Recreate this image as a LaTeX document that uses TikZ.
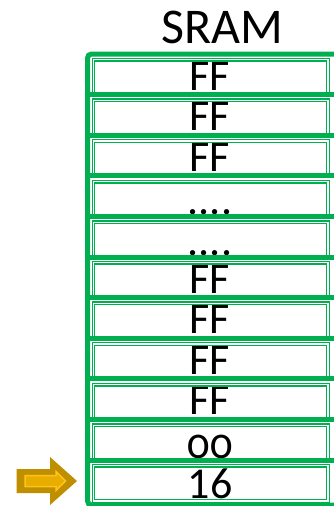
\documentclass[tikz,border=0pt]{standalone}
\usepackage{fontspec}
\setmainfont{Carlito}
\newfontfamily\oldnum[Numbers=OldStyle]{Carlito}
\definecolor{sgreen}{HTML}{00B050}
\definecolor{golddark}{HTML}{BF8F00}
\definecolor{goldlight}{HTML}{E9AD00}
\definecolor{goldline}{HTML}{FFC21A}
\tikzset{
  cell/.style={draw=sgreen, double=white, double distance=1.3pt, line width=1.3pt,
    minimum width=234.5pt, inner sep=0pt, outer sep=0pt},
  celltext/.style={anchor=base, inner sep=0pt, font=\fontsize{44}{44}\selectfont},
  thick frame/.style={draw=sgreen, line width=5pt},
}
\begin{document}
\begin{tikzpicture}[x=1pt,y=-1pt]
\useasboundingbox (0,0) rectangle (333,506);
% title
\node[anchor=base, inner sep=0pt, font=\fontsize{50}{50}\selectfont] (title) at (222.5,43.5) {SRAM};
% texts (drawn first, lines go over them)
\foreach \k/\txt/\dy in {0/{FF}/4.5,1/{FF}/4.5,2/{FF}/4.5,3/{....}/2,4/{....}/2,5/{FF}/4.5,6/{FF}/4.5,7/{FF}/4.5,8/{FF}/4.5,9/{\oldnum 00}/1.5} {
  \pgfmathsetmacro{\rbase}{54+40.6*(\k+1)-\dy}
  \node[celltext] (t\k) at (210,\rbase) {\txt};
}
\node[celltext] (t10) at (210,498) {16};
% cells (inner double boxes; their bottom edge lies under the next thick band)
\foreach \k in {0,...,9} {
  \pgfmathsetmacro{\rmid}{54+40.6*\k+23.2}
  \node[cell, minimum height=34.8pt] (c\k) at (210.75,\rmid) {};
}
\node[cell, minimum height=35.2pt] (c10) at (210.75,483.4) {};
% outer thick frame
\draw[thick frame, rounded corners=4pt] (336,54) -- (87.5,54) -- (87.5,505) -- (336,505);
\foreach \k in {1,...,10} {
  \pgfmathsetmacro{\rtop}{54+40.6*\k}
  \coordinate (sl\k) at (87.5,\rtop);
  \coordinate (sr\k) at (336,\rtop);
  \draw[thick frame] (sl\k) -- (sr\k);
}
% pointer arrow
\coordinate (ptip) at (77,481);
\draw[fill=golddark, draw=none] (16.5,469) -- (50,469) -- (50,457) -- (ptip) -- (50,505) -- (50,493) -- (16.5,493) -- cycle;
\draw[fill=goldlight, draw=goldline, line width=1.5pt] (25,475.5) -- (56,475.5) -- (56,471.5) -- (65.5,481) -- (56,490.5) -- (56,486.5) -- (25,486.5) -- cycle;
\end{tikzpicture}
\end{document}
